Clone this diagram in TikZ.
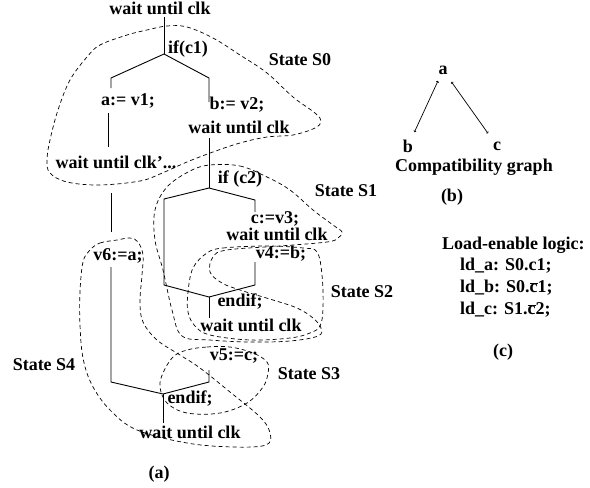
\documentclass[tikz,border=0pt]{standalone}
\usepackage{fontspec}
\setmainfont{Liberation Serif}
\usetikzlibrary{arrows.meta}
\newcommand\ovl[1]{$\overline{\hbox{#1}}$}
\begin{document}
\begin{tikzpicture}[x=1pt,y=-1pt,
  txt/.style={font=\bfseries\fontsize{18}{20}\selectfont, inner sep=0pt},
  flow/.style={line width=0.9pt},
  region/.style={line width=0.7pt, dash pattern=on 4pt off 3pt},
  gedge/.style={line width=0.7pt, {Straight Barb[length=1pt,width=2.5pt]}-{Straight Barb[length=1pt,width=2.5pt]}}]
\useasboundingbox (0,0) rectangle (590,488);

% ---- flow text (a)
\node[txt] (t0) at (160,8) {wait until clk};
\node[txt] (if1) at (188,49) {if(c1)};
\node[txt] (a1) at (128,101) {a:= v1;};
\node[txt] (b1) at (237,105) {b:= v2;};
\node[txt] (w1) at (239,127) {wait until clk};
\node[txt] (w2) at (116,162) {wait until clk’...};
\node[txt] (if2) at (240,179) {if (c2)};
\node[txt] (c3) at (275,219) {c:=v3;};
\node[txt] (w3) at (277,234) {wait until clk};
\node[txt] (v4) at (281,254) {v4:=b;};
\node[txt] (e1) at (240,302) {endif;};
\node[txt] (w4) at (251,325) {wait until clk};
\node[txt] (v5) at (234,356) {v5:=c;};
\node[txt] (e2) at (190,399) {endif;};
\node[txt] (w5) at (190,432) {wait until clk};
\node[txt] (v6) at (118,256) {v6:=a;};
\node[txt] (la) at (159,474) {(a)};

% state labels
\node[txt] (s0) at (300,60) {State S0};
\node[txt] (s1) at (346,191) {State S1};
\node[txt] (s2) at (362,292) {State S2};
\node[txt] (s3) at (309,374) {State S3};
\node[txt] (s4) at (44,365) {State S4};

% ---- junction coordinates
\coordinate (t0e) at (164,17);
\coordinate (j1) at (164,54);
\coordinate (j1L) at (111,78);
\coordinate (a1e) at (111,88);
\coordinate (j1R) at (209,78);
\coordinate (b1e) at (209,102);
\coordinate (a1s) at (108,113);
\coordinate (w2n) at (108,147);
\coordinate (w1s) at (209,138);
\coordinate (h1) at (209,188);
\coordinate (hL1) at (164,199);
\coordinate (hL2) at (164,285);
\coordinate (h2) at (209,297);
\coordinate (hR1) at (255,200);
\coordinate (c3e) at (255,212);
\coordinate (v4s) at (255,262);
\coordinate (hR2) at (255,285);
\coordinate (w4n) at (209,318);
\coordinate (w2s) at (111,193);
\coordinate (v6n) at (111,232);
\coordinate (v6s) at (111,267);
\coordinate (kL) at (111,382);
\coordinate (v5s) at (209,370);
\coordinate (kR) at (209,382);
\coordinate (k) at (163,394);
\coordinate (w5n) at (163,423);

\draw[flow] (t0e) -- (j1);
\draw[flow] (j1) -- (j1L) -- (a1e);
\draw[flow] (j1) -- (j1R) -- (b1e);
\draw[flow] (a1s) -- (w2n);
\draw[flow] (w1s) -- (h1);
\draw[flow] (h1) -- (hL1) -- (hL2) -- (h2);
\draw[flow] (h1) -- (hR1) -- (c3e);
\draw[flow] (v4s) -- (hR2) -- (h2);
\draw[flow] (h2) -- (w4n);
\draw[flow] (w2s) -- (v6n);
\draw[flow] (v6s) -- (kL) -- (k);
\draw[flow] (v5s) -- (kR) -- (k);
\draw[flow] (k) -- (w5n);

% ---- state regions
\draw[region] plot[smooth cycle, tension=0.6] coordinates {
 (167,26) (187,27) (213,38) (240,55) (267,73) (293,97) (315,113) (321,121)
 (315,128) (293,135) (267,137) (240,143) (213,152) (187,162) (160,174)
 (140,181) (100,185) (67,182) (50,173) (47,160) (50,140) (58,110) (70,80)
 (87,57) (100,45) (127,35) (147,30)};
\draw[region] plot[smooth cycle, tension=0.6] coordinates {
 (210,165) (240,166) (267,177) (290,190) (313,210) (333,225) (342,232)
 (338,238) (327,242) (280,246) (227,250) (213,257) (210,272) (222,283)
 (240,290) (273,300) (297,308) (313,318) (321,328) (318,336) (290,341)
 (250,342) (210,340) (182,336) (172,310) (163,270) (155,240) (155,210)
 (167,187) (190,171)};
\draw[region] plot[smooth cycle, tension=0.6] coordinates {
 (207,253) (223,248) (267,246) (303,248) (317,252) (322,275) (323,308)
 (320,326) (310,333) (290,338) (250,340) (210,335) (195,326) (188,312)
 (188,292) (193,268)};
\draw[region] plot[smooth cycle, tension=0.6] coordinates {
 (187,350) (207,347) (230,347) (253,353) (267,362) (268,373) (263,387)
 (247,403) (220,413) (187,413) (167,403) (160,387) (163,373) (173,357)};
\draw[region] plot[smooth cycle, tension=0.6] coordinates {
 (90,250) (100,243) (117,240) (130,238) (138,242) (143,255) (142,275)
 (140,302) (143,322) (157,340) (180,355) (200,368) (230,392) (260,417)
 (270,433) (266,445) (233,447) (187,443) (137,430) (110,410) (92,385)
 (83,358) (80,325) (80,292) (83,262)};

% ---- (b) compatibility graph
\node[txt] (ga) at (443,70) {a};
\node[txt] (gb) at (408,146) {b};
\node[txt] (gc) at (497,146) {c};
\draw[gedge, shorten <=7pt, shorten >=8pt] (ga) -- (gb);
\draw[gedge, shorten <=9pt, shorten >=10pt] (ga) -- (gc);
\node[txt] (cg) at (474,167) {Compatibility graph};
\node[txt] (lb) at (452,197) {(b)};

% ---- (c) load-enable logic
\node[txt, anchor=west] (le) at (442,245) {Load-enable logic:};
\node[txt, anchor=west] (lda) at (460,266) {ld\_a: S0.c1;};
\node[txt, anchor=west] (ldb) at (460,288) {ld\_b: S0.\ovl{c}1;};
\node[txt, anchor=west] (ldc) at (460,310) {ld\_c: S1.\ovl{c}2;};
\node[txt] (lc) at (503,352) {(c)};
\end{tikzpicture}
\end{document}
